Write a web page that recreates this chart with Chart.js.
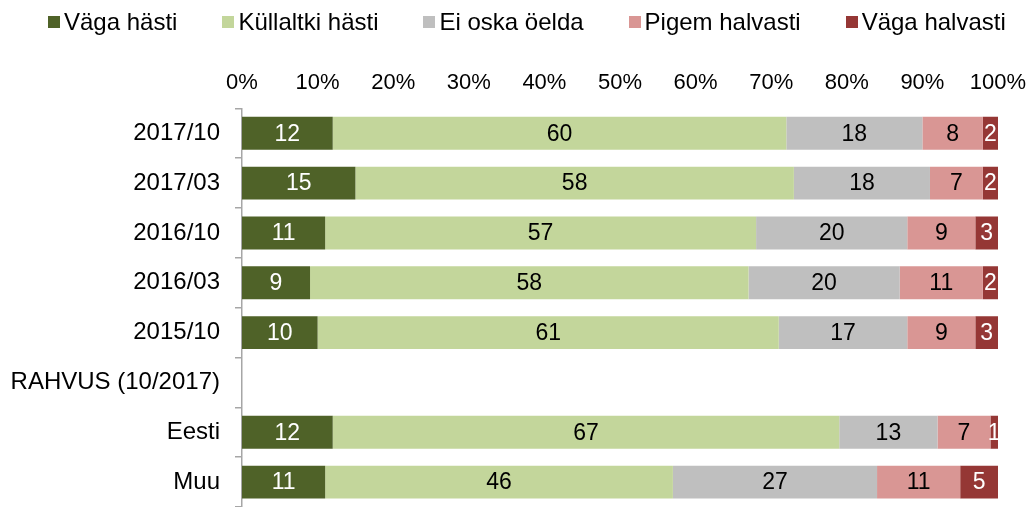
<!DOCTYPE html>
<html>
<head>
<meta charset="utf-8">
<script src="https://cdn.jsdelivr.net/npm/chart.js@4/dist/chart.umd.min.js"></script>
<style>
  html, body { margin: 0; padding: 0; background: #fff; }
  #wrap { position: relative; width: 1029px; height: 507px; font-family: "Liberation Sans", Arial, sans-serif; }
  #legend { position: absolute; left: 48px; top: 9px; display: flex; gap: 45px; font-size: 24px; color: #000; line-height: 26px; }
  #legend .item { display: flex; align-items: center; white-space: nowrap; }
  #legend .box { width: 12px; height: 12px; margin-right: 4px; }
  canvas { position: absolute; left: 0; top: 0; }
</style>
</head>
<body>
<div id="wrap">
  <canvas id="c" width="1029" height="507"></canvas>
  <div id="legend"></div>
</div>
<script>
const categories = ["2017/10", "2017/03", "2016/10", "2016/03", "2015/10", "RAHVUS (10/2017)", "Eesti", "Muu"];
const seriesNames = ["Väga hästi", "Küllaltki hästi", "Ei oska öelda", "Pigem halvasti", "Väga halvasti"];
const vagaHasti      = [12, 15, 11, 9, 10, null, 12, 11];
const kullaltkiHasti = [60, 58, 57, 58, 61, null, 67, 46];
const eiOskaOelda    = [18, 18, 20, 20, 17, null, 13, 27];
const pigemHalvasti  = [8, 7, 9, 11, 9, null, 7, 11];
const vagaHalvasti   = [2, 2, 3, 2, 3, null, 1, 5];
const tickValues = [0, 10, 20, 30, 40, 50, 60, 70, 80, 90, 100];

const colors = ["#4F6228", "#C3D69B", "#BFBFBF", "#D99694", "#953735"];
const labelColors = ["#ffffff", "#000000", "#000000", "#000000", "#ffffff"];
const seriesData = [vagaHasti, kullaltkiHasti, eiOskaOelda, pigemHalvasti, vagaHalvasti];

// HTML legend
const lg = document.getElementById('legend');
seriesNames.forEach((n, i) => {
  const it = document.createElement('span'); it.className = 'item';
  const b = document.createElement('span'); b.className = 'box'; b.style.background = colors[i];
  const t = document.createElement('span'); t.textContent = n;
  it.appendChild(b); it.appendChild(t); lg.appendChild(it);
});

const valueLabels = {
  id: 'valueLabels',
  afterDatasetsDraw(chart) {
    const ctx = chart.ctx;
    ctx.save();
    ctx.font = '23px "Liberation Sans", Arial, sans-serif';
    ctx.textAlign = 'center';
    ctx.textBaseline = 'middle';
    chart.data.datasets.forEach((ds, di) => {
      const meta = chart.getDatasetMeta(di);
      meta.data.forEach((el, i) => {
        const v = ds.data[i];
        if (v === null || v === undefined) return;
        const cx = (el.x + el.base) / 2;
        ctx.fillStyle = labelColors[di];
        ctx.fillText(String(v), cx, el.y + 1);
      });
    });
    ctx.restore();
  }
};

new Chart(document.getElementById('c'), {
  type: 'bar',
  data: {
    labels: categories,
    datasets: seriesData.map((d, i) => ({
      label: seriesNames[i],
      data: d,
      backgroundColor: colors[i],
      borderWidth: 0,
      barPercentage: 0.66,
      categoryPercentage: 1.0
    }))
  },
  options: {
    indexAxis: 'y',
    responsive: false,
    animation: false,
    layout: { padding: { top: 58, right: 31, bottom: 0, left: 0 } },
    plugins: { legend: { display: false }, tooltip: { enabled: false } },
    scales: {
      x: {
        position: 'top',
        stacked: true,
        min: 0, max: 100,
        afterBuildTicks(scale) { scale.ticks = tickValues.map(v => ({ value: v })); },
        afterFit(scale) { scale.paddingLeft = 0; scale.paddingRight = 0; },
        ticks: {
          callback: v => v + '%',
          font: { family: '"Liberation Sans", Arial, sans-serif', size: 22 },
          color: '#000',
          padding: 12,
          maxRotation: 0,
          autoSkip: false
        },
        grid: { display: false, drawTicks: false },
        border: { display: false }
      },
      y: {
        stacked: true,
        afterFit(scale) { scale.width = 242; scale.paddingTop = 0; scale.paddingBottom = 0; },
        ticks: {
          font: { family: '"Liberation Sans", Arial, sans-serif', size: 24 },
          color: '#000',
          padding: 15
        },
        grid: {
          drawOnChartArea: false,
          drawTicks: true,
          tickLength: 7,
          offset: true,
          color: '#A6A6A6',
          lineWidth: 1.5
        },
        border: { display: true, color: '#A6A6A6', width: 1.5 }
      }
    }
  },
  plugins: [valueLabels]
});
</script>
</body>
</html>
